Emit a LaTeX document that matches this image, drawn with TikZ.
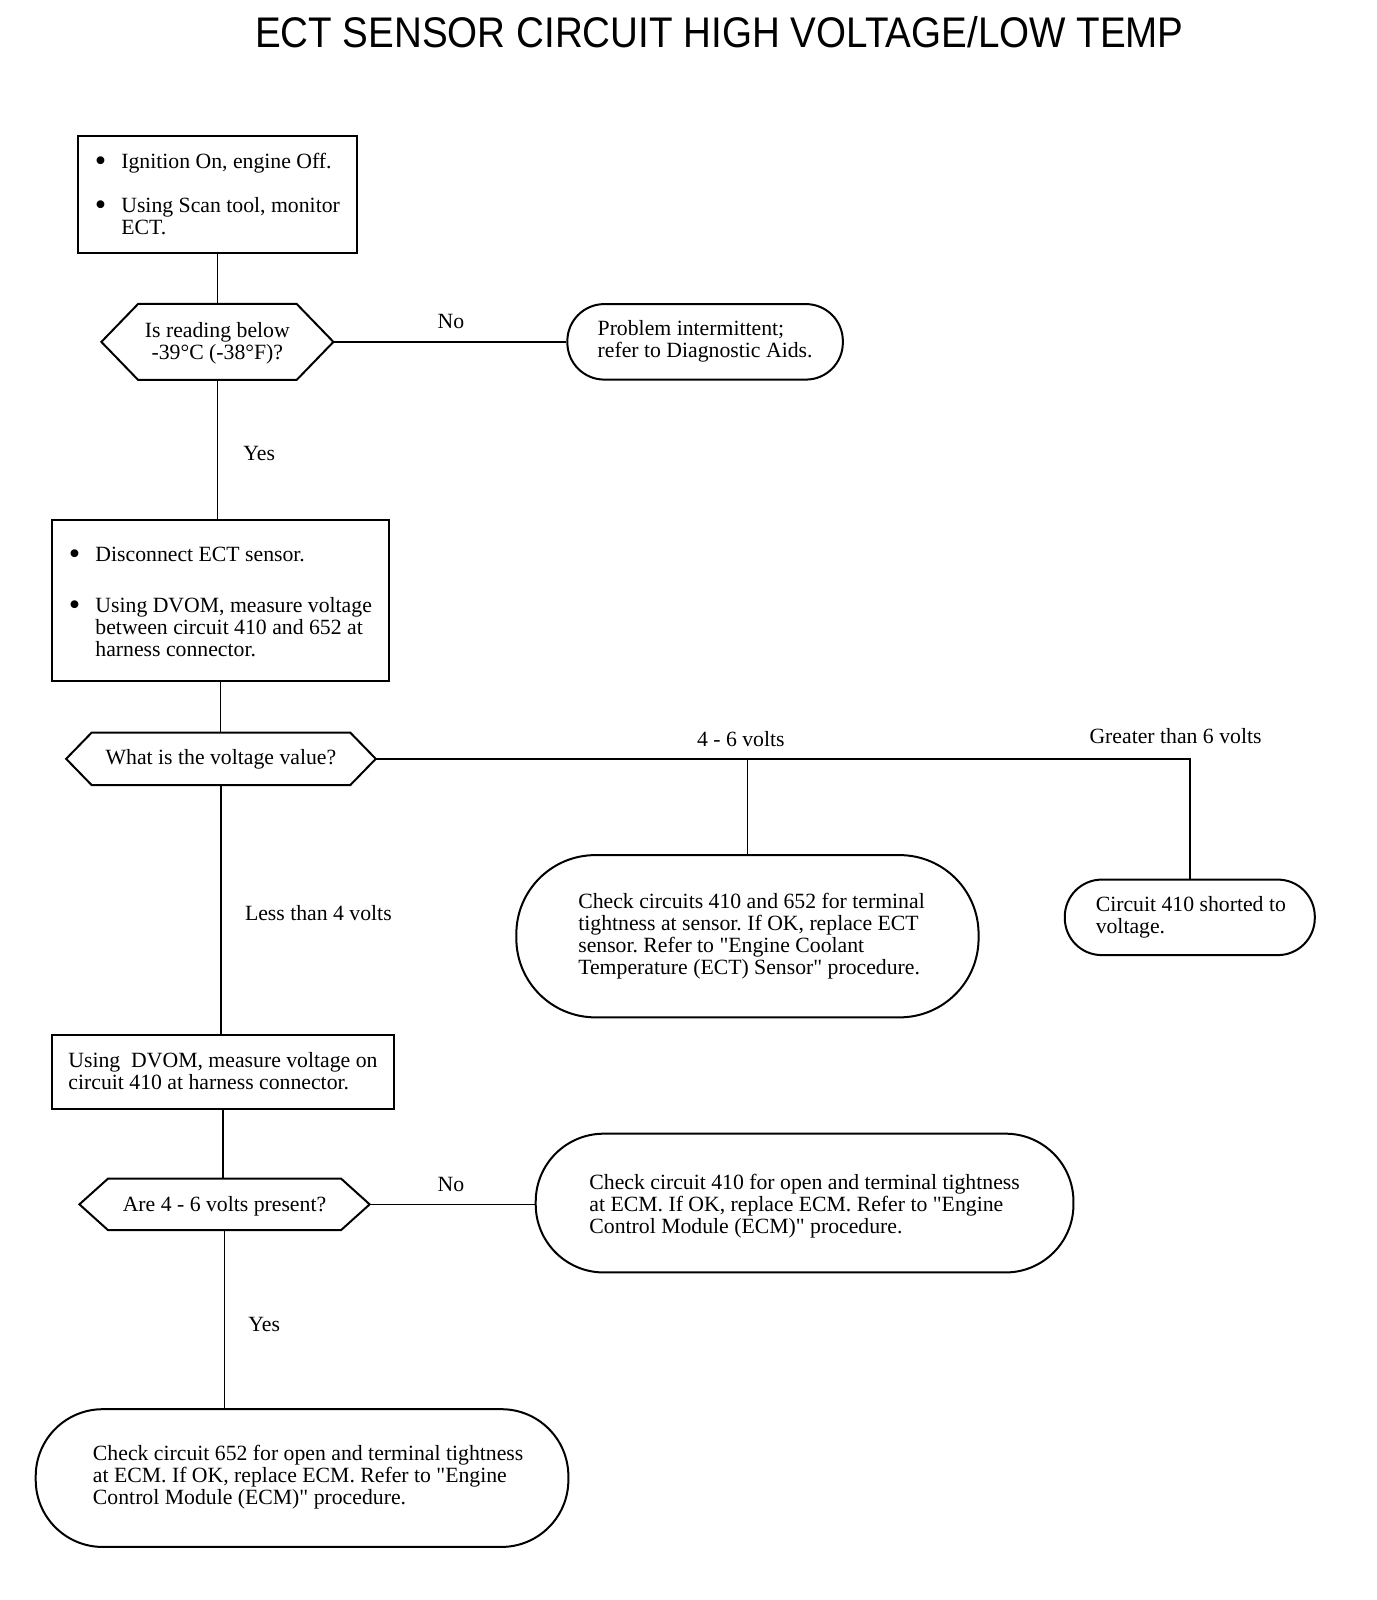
\documentclass[tikz,border=0pt]{standalone}
\usepackage{fontspec}
\newfontfamily\bodyfont{Liberation Serif}
\newfontfamily\titlefont{Liberation Sans}
\usetikzlibrary{calc}
\frenchspacing
\newcommand\hexframe[2]{%
  \draw[shapeline] (#1.north west) -- (#1.north east) -- ([xshift=#2]#1.east) coordinate (#1-r)
    -- (#1.south east) -- (#1.south west) -- ([xshift=-#2]#1.west) coordinate (#1-l) -- cycle;}
% #1 = extra top padding (pt), #2 = extra left padding (pt), #3 = text
\newcommand\ttab[3]{\begin{tabular}{@{\hspace{#2pt}}l@{}}\rule{0pt}{\dimexpr15pt+#1pt\relax}#3\end{tabular}}
\newcommand\btab[2]{\begin{tabular}{@{}p{26pt}@{}l@{}}\rule{0pt}{\dimexpr15pt+#1pt\relax}#2\end{tabular}}
\newcommand\bul{\raisebox{-2.5pt}{\scalebox{1.5}{\textbullet}}}
\begin{document}
\frenchspacing
\begin{tikzpicture}[x=1pt,y=-1pt,scale=1.0204,transform shape,
  txt/.style={font=\bodyfont\fontsize{21.3}{21.5}\selectfont\frenchspacing, inner sep=0pt},
  shapeline/.style={line width=2pt, line join=miter},
  stepbox/.style={txt, draw, shapeline},
  term/.style={txt, draw, shapeline},
  dec/.style={txt},
  conn/.style={line width=1.6pt},
  lbl/.style={txt}]
\fill[white] (0,0) rectangle (1348.5,1568);
\useasboundingbox (0,0) rectangle (1348.5,1568);

\node[inner sep=0pt, font=\titlefont\fontsize{42}{44}\selectfont] (title) at (705,32)
  {\scalebox{0.9}[1]{ECT SENSOR CIRCUIT HIGH VOLTAGE/LOW TEMP}};

% boxes
\node[stepbox, minimum width=274pt, minimum height=115pt] (b1) at (213,190.5)
  {\btab{6}{\bul & Ignition On, engine Off.\\[21.5pt] \bul & Using Scan tool, monitor\\ & ECT.}};
\node[dec, minimum width=155pt, minimum height=74pt] (d1) at (213,335)
  {\begin{tabular}{@{}c@{}}\rule{0pt}{19pt}Is reading below\\ -39°C (-38°F)?\end{tabular}};
\hexframe{d1}{36pt}
\node[term, minimum width=270pt, minimum height=74pt, rounded corners=37pt] (t1) at (691,335)
  {\ttab{1}{0}{Problem intermittent;\\ refer to Diagnostic Aids.}};

\node[stepbox, minimum width=330pt, minimum height=157pt] (b2) at (216,588.5)
  {\btab{8}{\bul & Disconnect ECT sensor.\\[28.5pt] \bul & Using DVOM, measure voltage\\ & between circuit 410 and 652 at\\ & harness connector.}};
\node[dec, minimum width=253pt, minimum height=51pt] (d2) at (216.5,743.5)
  {\ttab{3}{0}{What is the voltage value?}};
\hexframe{d2}{25pt}
\node[term, minimum width=453pt, minimum height=159pt, rounded corners=79pt] (t2) at (732.5,917.5)
  {\ttab{1}{8}{Check circuits 410 and 652 for terminal\\ tightness at sensor. If OK, replace ECT\\ sensor. Refer to "Engine Coolant\\ Temperature (ECT) Sensor" procedure.}};
\node[term, minimum width=245pt, minimum height=74pt, rounded corners=37pt] (t3) at (1166,899)
  {\ttab{1}{2}{Circuit 410 shorted to\\ voltage.}};

\node[stepbox, minimum width=335pt, minimum height=73pt] (b3) at (218.5,1050.5)
  {\ttab{5}{0}{Using~~DVOM, measure voltage on\\ circuit 410 at harness connector.}};
\node[dec, minimum width=228pt, minimum height=50pt] (d3) at (220,1180)
  {\ttab{6}{0}{Are 4 - 6 volts present?}};
\hexframe{d3}{28pt}
\node[term, minimum width=527pt, minimum height=136pt, rounded corners=68pt] (t4) at (788.5,1179)
  {\ttab{8}{0}{Check circuit 410 for open and terminal tightness\\ at ECM. If OK, replace ECM. Refer to "Engine\\ Control Module (ECM)" procedure.}};
\node[term, minimum width=522pt, minimum height=135pt, rounded corners=67pt] (t5) at (296,1448.5)
  {\ttab{0}{12}{Check circuit 652 for open and terminal tightness\\ at ECM. If OK, replace ECM. Refer to "Engine\\ Control Module (ECM)" procedure.}};

% connectors
\draw[conn] (b1.south) -- (b1.south |- d1.north);
\draw[conn] (d1-r) -- (d1-r -| t1.west);
\draw[conn] (d1.south) -- (d1.south |- b2.north);
\draw[conn] (b2.south) -- (b2.south |- d2.north);
\draw[conn] (d2-r) -| (t3.north);
\draw[conn] (t2.north) -- (t2.north |- d2-r);
\draw[conn] (d2.south) -- (d2.south |- b3.north);
\draw[conn] (b3.south) -- (b3.south |- d3.north);
\draw[conn] (d3-r) -- (d3-r -| t4.west);
\draw[conn] (d3.south) -- (d3.south |- t5.north);

% labels
\node[lbl] (l1) at (442,315) {No};
\node[lbl] (l2) at (254,444) {Yes};
\node[lbl] (l3) at (726,724) {4 - 6 volts};
\node[lbl] (l4) at (1152,721) {Greater than 6 volts};
\node[lbl] (l5) at (312,895) {Less than 4 volts};
\node[lbl] (l6) at (442,1161) {No};
\node[lbl] (l7) at (259,1298) {Yes};
\end{tikzpicture}
\end{document}
